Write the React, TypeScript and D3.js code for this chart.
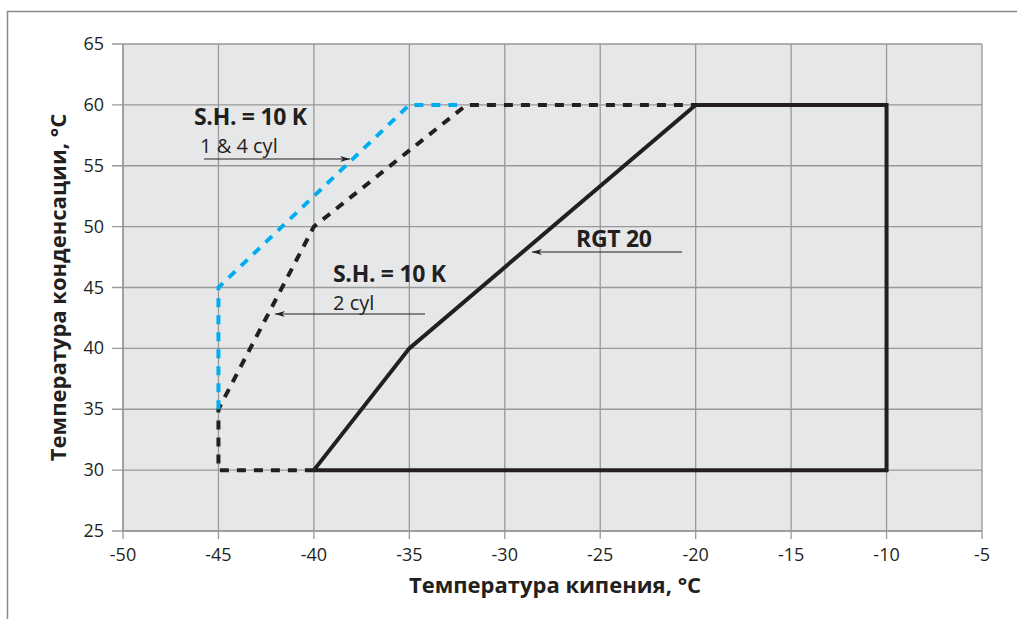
import React from "react";
import * as d3 from "d3";

// envelope data (evaporating temp, condensing temp)
const rgt20 = [
  [-40, 30], [-35, 40], [-20, 60], [-10, 60], [-10, 30], [-40, 30],
];
const cyl2 = [
  [-40, 30], [-45, 30], [-45, 35], [-40, 50], [-32, 60], [-20, 60],
];
const cyl14 = [
  [-45, 35], [-45, 45], [-35, 60], [-32.5, 60],
];
const xTicks = [-50, -45, -40, -35, -30, -25, -20, -15, -10, -5];
const yTicks = [25, 30, 35, 40, 45, 50, 55, 60, 65];

const W = 1017, H = 619;
const margin = { left: 123, right: 35, top: 44, bottom: 88 };
const FONT = "'Open Sans', 'Noto Sans', sans-serif";

export default function App() {
  const x = d3.scaleLinear().domain([-50, -5]).range([margin.left, W - margin.right]);
  const y = d3.scaleLinear().domain([25, 65]).range([H - margin.bottom, margin.top]);
  const line = d3.line<number[]>().x(d => x(d[0])).y(d => y(d[1]));
  const x0 = x(-50), x1 = x(-5), y0 = y(25), y1 = y(65);

  return (
    <svg width={W} height={H} style={{ position: "absolute", left: 0, top: 0 }}>
      <defs>
        <marker id="arr" viewBox="0 0 10 6" refX="10" refY="3" markerWidth="10" markerHeight="6" orient="auto" markerUnits="userSpaceOnUse">
          <path d="M0,0 L10,3 L0,6 L3,3 Z" fill="#231f20" />
        </marker>
      </defs>
      <rect width={W} height={H} fill="#fff" />
      {/* outer frame */}
      <path d={`M7.5,${H} V11.5 H${W}`} fill="none" stroke="#8a8a8a" strokeWidth={1.5} />
      <rect x={x0} y={y1} width={x1 - x0} height={y0 - y1} fill="#e6e7e8" />
      {xTicks.map(t => (
        <line key={"gx" + t} x1={x(t)} x2={x(t)} y1={y1} y2={y0 + 8} stroke="#999" strokeWidth={1.3} />
      ))}
      {yTicks.map(t => (
        <line key={"gy" + t} x1={x0 - 11} x2={x1} y1={y(t)} y2={y(t)} stroke="#999" strokeWidth={1.3} />
      ))}
      <line x1={x0} x2={x0} y1={y1} y2={y0} stroke="#999" strokeWidth={1.5} />
      <line x1={x0} x2={x1} y1={y0} y2={y0} stroke="#999" strokeWidth={1.5} />
      {xTicks.map(t => (
        <text key={"tx" + t} x={x(t)} y={561} textAnchor="middle" fontFamily={FONT} fontSize={18} fill="#231f20">{t}</text>
      ))}
      {yTicks.map(t => (
        <text key={"ty" + t} x={104} y={y(t) + 6} textAnchor="end" fontFamily={FONT} fontSize={18} fill="#231f20">{t}</text>
      ))}

      <path d={line(cyl2 as any) || ""} fill="none" stroke="#231f20" strokeWidth={4} strokeDasharray="9 8" />
      <path d={line(cyl14 as any) || ""} fill="none" stroke="#00aeef" strokeWidth={4} strokeDasharray="9 8" />
      <path d={line(rgt20 as any) || ""} fill="none" stroke="#231f20" strokeWidth={4} strokeLinejoin="miter" />

      {/* annotations */}
      <g fontFamily={FONT} fill="#231f20">
        <text x={194} y={125} fontSize={23} fontWeight="bold" letterSpacing={-0.3}>S.H. = 10 K</text>
        <text x={200} y={153} fontSize={20}>1 &amp; 4 cyl</text>
        <line x1={204} y1={159} x2={350} y2={159} stroke="#231f20" strokeWidth={1} markerEnd="url(#arr)" />
        <text x={333} y={282} fontSize={23} fontWeight="bold" letterSpacing={-0.3}>S.H. = 10 K</text>
        <text x={333} y={310} fontSize={20}>2 cyl</text>
        <line x1={425} y1={314} x2={275} y2={314} stroke="#231f20" strokeWidth={1} markerEnd="url(#arr)" />
        <text x={576} y={247} fontSize={23} fontWeight="bold" letterSpacing={-0.3}>RGT 20</text>
        <line x1={682} y1={252} x2={532} y2={252} stroke="#231f20" strokeWidth={1} markerEnd="url(#arr)" />
      </g>

      <text x={555} y={593} textAnchor="middle" fontFamily={FONT} fontSize={22} fontWeight="bold" fill="#231f20">Температура кипения, °C</text>
      <text transform={`translate(66,${(y0 + y1) / 2}) rotate(-90)`} textAnchor="middle" fontFamily={FONT} fontSize={22} fontWeight="bold" fill="#231f20">Температура конденсации, °C</text>
    </svg>
  );
}
